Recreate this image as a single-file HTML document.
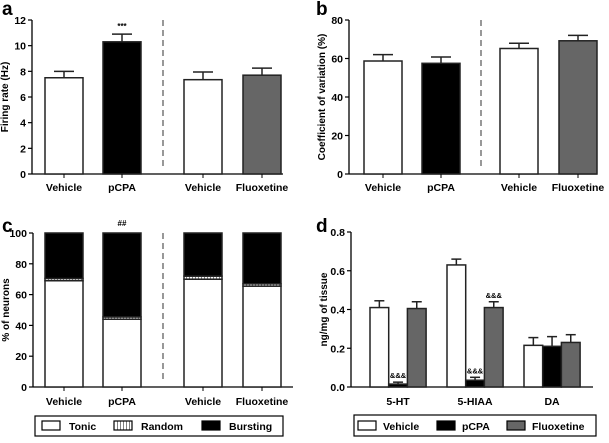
<!DOCTYPE html>
<html><head><meta charset="utf-8"><style>
body{margin:0;background:#fff;width:609px;height:438px;overflow:hidden}
svg{font-family:"Liberation Sans",sans-serif;font-weight:bold}
</style></head><body>
<svg id="s" width="609" height="438"></svg>
<script>
const firingVals=[7.5,10.3,7.35,7.7];
const firingErr=[0.5,0.6,0.6,0.55];
const cvVals=[58.7,57.5,65.2,69.2];
const cvErr=[3.3,3.3,2.7,2.8];
const groupCats=["Vehicle","pCPA","Vehicle","Fluoxetine"];
const groupFills=["#fff","#000","#fff","#666"];
const tonic=[69,44,70,65.5];
const random=[1.5,1.5,2,1.5];
const dCats=["5-HT","5-HIAA","DA"];
const dVehicle=[0.41,0.63,0.215];
const dPcpa=[0.015,0.035,0.21];
const dFlu=[0.405,0.41,0.23];
const dVehErr=[0.035,0.03,0.04];
const dPcpaErr=[0.01,0.015,0.05];
const dFluErr=[0.035,0.03,0.04];
const aTicks=[0,2,4,6,8,10,12];
const bTicks=[0,20,40,60,80];
const cTicks=[0,20,40,60,80,100];
const dTicks=["0.0","0.2","0.4","0.6","0.8"];

const S=document.getElementById('s');const NS="http://www.w3.org/2000/svg";
function el(t,a,txt){const e=document.createElementNS(NS,t);for(const k in a)e.setAttribute(k,a[k]);if(txt!=null)e.textContent=txt;S.appendChild(e);return e;}
const defs=el('defs',{});
defs.innerHTML='<pattern id="hatch" width="3" height="4" patternUnits="userSpaceOnUse"><rect width="3" height="4" fill="#fff"/><line x1="0" y1="0" x2="0" y2="4" stroke="#000" stroke-width="1"/></pattern>';

function axis(x0,x1,yTop,yBot,max,ticks,title,letter,lx,ly){
  const Y=v=>yBot-(v/max)*(yBot-yTop);
  let e=el('line',{x1:x0,y1:yTop,x2:x0,y2:yBot,stroke:'#000','stroke-width':1.3});
  
  e=el('line',{x1:x0,y1:yBot,x2:x1,y2:yBot,stroke:'#000','stroke-width':1.3});
  
  ticks.forEach(t=>{const y=Y(parseFloat(t));
    el('line',{x1:x0-4,y1:y,x2:x0,y2:y,stroke:'#000','stroke-width':1.2});
    e=el('text',{x:x0-6,y:y+4,'font-size':10.5,'text-anchor':'end'},String(t));
    });
  const cy=(yTop+yBot)/2;
  e=el('text',{x:0,y:0,'font-size':10,'text-anchor':'middle',transform:`translate(${x0-24},${cy}) rotate(-90)`},title);
  
  e=el('text',{x:lx,y:ly,'font-size':19},letter);
  
  return Y;
}
function bar(x,w,y0,y1,fill,name){const e=el('rect',{x:x,y:Math.min(y0,y1),width:w,height:Math.abs(y1-y0),fill:fill,stroke:'#222','stroke-width':1.5});
  return e;}
function err(cx,y,yTop,hw){el('line',{x1:cx,y1:y,x2:cx,y2:yTop,stroke:'#222','stroke-width':1.5});el('line',{x1:cx-hw,y1:yTop,x2:cx+hw,y2:yTop,stroke:'#222','stroke-width':1.5});}
function cat(x,y,t){const e=el('text',{x:x,y:y,'font-size':10.5,'text-anchor':'middle'},t);}
function dash(x,y0,y1){const e=el('line',{x1:x,y1:y0,x2:x,y2:y1,stroke:'#555','stroke-width':1.2,'stroke-dasharray':'6,4'});}

// Panel a
const ax=[45,103,184,243];
let Ya=axis(32,283,20,174,12,aTicks,"Firing rate (Hz)","a",2,15);
dash(163,20,170);
firingVals.forEach((v,i)=>{bar(ax[i],38,Ya(0),Ya(v),groupFills[i],'bar-firing-'+i);err(ax[i]+19,Ya(v),Ya(v+firingErr[i]),10);
  el('line',{x1:ax[i]+19,y1:174,x2:ax[i]+19,y2:178,stroke:'#000'});cat(ax[i]+19,191,groupCats[i]);});
el('text',{x:122,y:Ya(firingVals[1]+firingErr[1])-5,'font-size':8,'text-anchor':'middle'},"***");

// Panel b
const bx=[364,422,500,559];
let Yb=axis(349,597,20,174,80,bTicks,"Coefficient of variation (%)","b",316,15);
dash(481,20,170);
cvVals.forEach((v,i)=>{bar(bx[i],38,Yb(0),Yb(v),groupFills[i],'bar-cv-'+i);err(bx[i]+19,Yb(v),Yb(v+cvErr[i]),10);
  el('line',{x1:bx[i]+19,y1:174,x2:bx[i]+19,y2:178,stroke:'#000'});cat(bx[i]+19,191,groupCats[i]);});

// Panel c
let Yc=axis(33,293,233,387,100,cTicks,"% of neurons","c",2,232);
dash(163,233,383);
tonic.forEach((v,i)=>{const x=ax[i];
  bar(x,38,Yc(0),Yc(v),'#fff','bar-tonic-'+i);
  bar(x,38,Yc(v),Yc(v+random[i]),'url(#hatch)','bar-random-'+i);
  bar(x,38,Yc(v+random[i]),Yc(100),'#000','bar-bursting-'+i);
  el('line',{x1:x+19,y1:387,x2:x+19,y2:391,stroke:'#000'});cat(x+19,405,groupCats[i]);});
el('text',{x:122,y:226,'font-size':8,'text-anchor':'middle'},"##");
let lg=el('rect',{x:35,y:416,width:248,height:20,fill:'#fff',stroke:'#000','stroke-width':1.2});

[["#fff","Tonic",42],["url(#hatch)","Random",114],["#000","Bursting",202]].forEach(([f,t,x])=>{
  el('rect',{x:x,y:421,width:18,height:9,fill:f,stroke:'#000','stroke-width':1.2});
  const e=el('text',{x:x+27,y:430,'font-size':10.5},t);});

// Panel d
let Yd=axis(351,593,232,387,0.8,dTicks,"ng/mg of tissue","d",316,232);
const dStart=[370,447,524];const bw=18.7;
dCats.forEach((c,i)=>{const x=dStart[i];
  [[dVehicle,dVehErr,'#fff'],[dPcpa,dPcpaErr,'#000'],[dFlu,dFluErr,'#666']].forEach(([vals,er,f],j)=>{
    const bx2=x+j*bw,v=vals[i];
    bar(bx2,bw,Yd(0),Yd(v),f,'bar-'+c+'-'+j);err(bx2+bw/2,Yd(v),Yd(v+er[i]),5);});
  cat(x+bw*1.5,405,c);});
[[378+18.7*0.5+8-8,dPcpa[0]+dPcpaErr[0]],[447+bw*1.5,dPcpa[1]+dPcpaErr[1]],[447+bw*2.5,dFlu[1]+dFluErr[1]]].forEach(([x,v],k)=>{
  const xx=k==0?370+bw*1.5:x;
  el('text',{x:xx,y:Yd(v)-4,'font-size':7.5,'text-anchor':'middle'},"&&&");});
lg=el('rect',{x:354,y:415,width:242,height:21,fill:'#fff',stroke:'#000','stroke-width':1.2});

[["#fff","Vehicle",358],["#000","pCPA",437],["#666","Fluoxetine",507]].forEach(([f,t,x])=>{
  el('rect',{x:x,y:421,width:18,height:9,fill:f,stroke:'#000','stroke-width':1.2});
  const e=el('text',{x:x+25,y:430,'font-size':10.5},t);});
</script>
</body></html>
